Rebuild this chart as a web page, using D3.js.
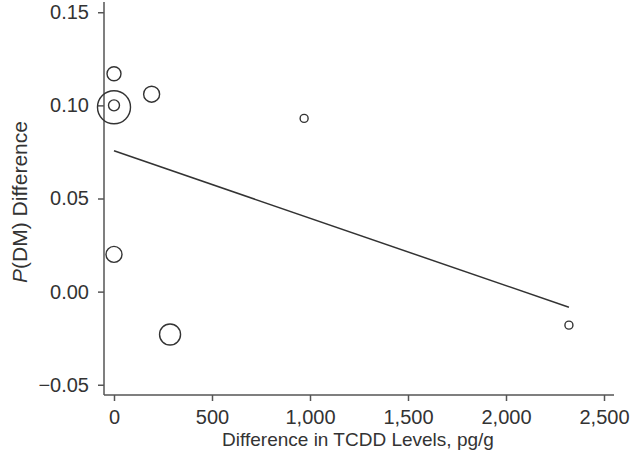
<!DOCTYPE html>
<html>
<head>
<meta charset="utf-8">
<script src="https://cdn.jsdelivr.net/npm/d3@7"></script>
<style>
body { margin: 0; background: #fff; }
text { font-family: "Liberation Sans", Arial, Helvetica, sans-serif; fill: #333; }
</style>
</head>
<body>
<svg id="chart" width="633" height="476"></svg>
<script>
// Data
const tcddDiff = [0, 0, 0, 192, 970, 0, 286, 2321];
const pdmDiff = [0.117, 0.100, 0.099, 0.106, 0.093, 0.020, -0.023, -0.018];
const weights = [7, 5.5, 16.5, 8, 4, 8, 10.5, 4]; // relative study weights (marker radii)
const fitX = [0, 2321];
const fitY = [0.0756, -0.0084];
const xTicks = [0, 500, 1000, 1500, 2000, 2500];
const yTicks = [-0.05, 0, 0.05, 0.10, 0.15];

const svg = d3.select("#chart");
const mLeft = 104, mRight = 614, mTop = 2, mBottom = 395;

const x = d3.scaleLinear().domain([-51, 2551]).range([mLeft, mRight]);
const y = d3.scaleLinear().domain([-0.0555, 0.1555]).range([mBottom, mTop]);
const r = d3.scaleLinear().domain([0, 1]).range([0, 1]);

const axisColor = "#555";

// Y axis
const yAxis = svg.append("g").attr("transform", `translate(${mLeft},0)`)
  .call(d3.axisLeft(y).tickValues(yTicks).tickSize(6).tickPadding(9)
    .tickFormat(d => d < 0 ? "\u2212" + d3.format(".2f")(-d) : d3.format(".2f")(d)));
yAxis.select(".domain").attr("d", `M0,${mTop}V${mBottom}`);
yAxis.selectAll("path,line").attr("stroke", axisColor).attr("stroke-width", 1.5);
yAxis.selectAll("text").style("font-size", "20px").attr("fill", "#333");

// X axis
const xAxis = svg.append("g").attr("transform", `translate(0,${mBottom})`)
  .call(d3.axisBottom(x).tickValues(xTicks).tickSize(6).tickPadding(9)
    .tickFormat(d3.format(",")));
xAxis.select(".domain").attr("d", `M${mLeft},0H${mRight}`);
xAxis.selectAll("path,line").attr("stroke", axisColor).attr("stroke-width", 1.5);
xAxis.selectAll("text").style("font-size", "20px").attr("fill", "#333");

// Points
svg.append("g").selectAll("circle")
  .data(tcddDiff.map((d, i) => ({x: d, y: pdmDiff[i], w: weights[i]})))
  .join("circle")
  .attr("cx", d => x(d.x))
  .attr("cy", d => y(d.y))
  .attr("r", d => r(d.w))
  .attr("fill", "none")
  .attr("stroke", "#333")
  .attr("stroke-width", 1.4);

// Fit line
svg.append("path")
  .datum(fitX.map((d, i) => [d, fitY[i]]))
  .attr("d", d3.line().x(d => x(d[0])).y(d => y(d[1])))
  .attr("fill", "none")
  .attr("stroke", "#333")
  .attr("stroke-width", 1.5);

// Axis titles
svg.append("text")
  .attr("x", 358).attr("y", 446)
  .attr("text-anchor", "middle")
  .style("font-size", "19px")
  .text("Difference in TCDD Levels, pg/g");

const yt = svg.append("text")
  .attr("transform", "translate(27,202) rotate(-90)")
  .attr("text-anchor", "middle")
  .style("font-size", "21px");
yt.append("tspan").style("font-style", "italic").text("P");
yt.append("tspan").text("(DM) Difference");
</script>
</body>
</html>
